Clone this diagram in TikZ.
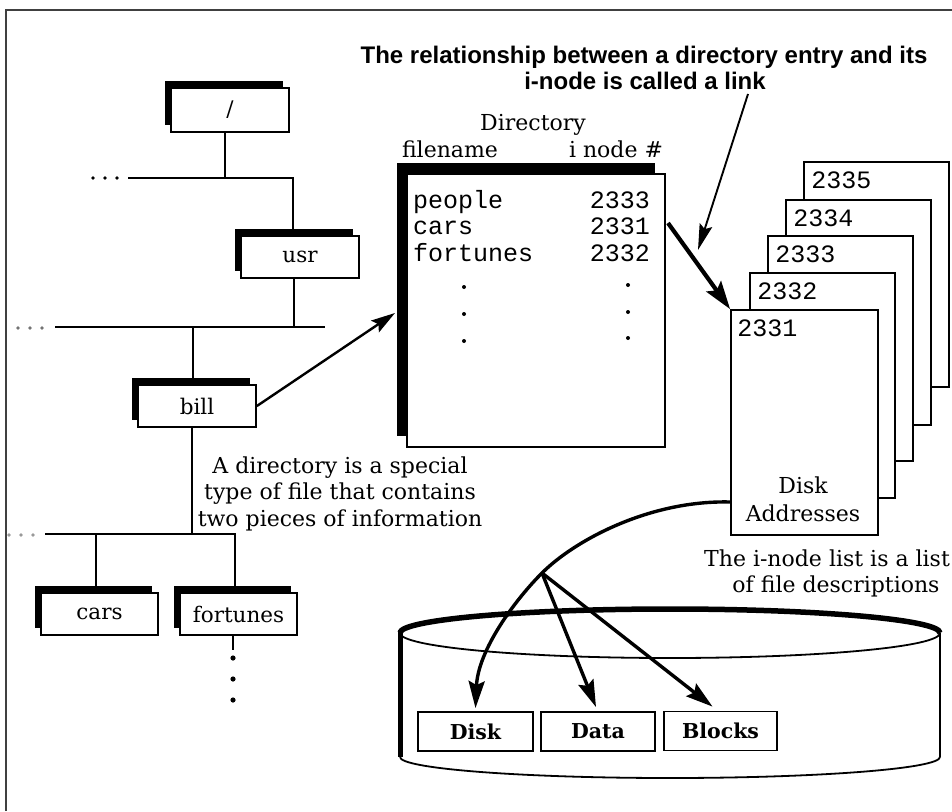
\documentclass[tikz,border=0pt]{standalone}
\usepackage{fontspec}
\newfontfamily\serif{DejaVu Serif}
\newfontfamily\mono{Liberation Mono}
\newfontfamily\hsans{Liberation Sans}
\usetikzlibrary{arrows.meta,shadows,calc}
\tikzset{
 tbox/.style={draw, line width=1.8pt, fill=white, minimum width=118pt, minimum height=42pt, inner sep=0pt,
   font=\serif\fontsize{21.5}{24}\selectfont,
   general shadow={fill=black, shadow xshift=-6pt, shadow yshift=7pt}},
 treeline/.style={line width=1.8pt},
 pagebox/.style={draw, line width=1.8pt, fill=white, minimum width=145pt, minimum height=225pt, inner sep=0pt},
 monotxt/.style={font=\mono\fontsize{25}{26.5}\selectfont, inner sep=0pt},
 sertxt/.style={font=\serif\fontsize{22}{26.5}\selectfont, inner sep=0pt},
 titletxt/.style={font=\hsans\bfseries\fontsize{24}{26}\selectfont, inner sep=0pt},
 dbox/.style={draw, line width=1.8pt, fill=white, minimum width=115pt, minimum height=39pt, inner sep=0pt,
   font=\serif\bfseries\fontsize{20.5}{22}\selectfont},
 diskarrow/.style={line width=3.4pt, -{Stealth[length=27pt,width=16pt,inset=4pt]}},
}
\begin{document}
\begin{tikzpicture}[x=1pt,y=-1pt]
\useasboundingbox (0,0) rectangle (952,811);
\fill[white] (0,0) rectangle (952,811);
% frame
\draw[line width=2pt, black!75] (6,811) -- (6,10) -- (952,10);

% ---- tree ----
\node[tbox, minimum height=44pt] (root) at (230,110) {/};
\node[tbox] (usr) at (300,257) {usr};
\node[tbox] (bill) at (197,406) {bill};
\node[tbox, minimum width=117pt] (cars) at (99.5,614) {cars};
\node[tbox, minimum width=117pt] (fort) at (238.5,614) {fortunes};

\coordinate (j1) at (225,178);
\coordinate (b1l) at (128,178);
\coordinate (b1r) at (293,178);
\draw[treeline] (j1 |- root.south) -- (j1);
\draw[treeline] (b1l) -- (b1r) -- (b1r |- usr.north);
\coordinate (j2) at (294,327);
\coordinate (b2l) at (55,327);
\coordinate (b2r) at (325,327);
\draw[treeline] (j2 |- usr.south) -- (j2);
\draw[treeline] (b2l) -- (b2r);
\coordinate (j3) at (193,327);
\draw[treeline] (j3) -- (j3 |- bill.north);
\coordinate (j4) at (192,534);
\draw[treeline] (j4 |- bill.south) -- (j4);
\coordinate (b3l) at (45,534);
\coordinate (b3r) at (235,534);
\draw[treeline] (b3l) -- (b3r) -- (b3r |- fort.north);
\coordinate (j5) at (96,534);
\draw[treeline] (j5) -- (j5 |- cars.north);
\coordinate (fdown) at (233,650);
\draw[treeline] (fdown |- fort.south) -- (fdown);
\foreach \yy in {658,679,700} \fill (233,\yy) circle (2.6pt);
\foreach \xx in {93,105,117} \fill (\xx,178) circle (1.8pt);
\foreach \xx in {18,30,42} \fill[black!55] (\xx,328) circle (1.8pt);
\foreach \xx in {9,21,33} \fill[black!40] (\xx,535) circle (1.8pt);

% annotation
\node[sertxt, anchor=base] (ann1) at (340,473) {A directory is a special};
\node[sertxt, anchor=base] (ann2) at (340,499.5) {type of file that contains};
\node[sertxt, anchor=base] (ann3) at (340,526) {two pieces of information};

% ---- directory ----
\node[draw, line width=1.8pt, fill=white, minimum width=258pt, minimum height=273pt, inner sep=0pt,
  general shadow={fill=black, shadow xshift=-10pt, shadow yshift=11pt}] (dir) at (536,310.5) {};
\node[sertxt, anchor=base] (dirtitle) at (533,130) {Directory};
\node[sertxt, anchor=base] (fnh) at (450,157) {filename};
\node[sertxt, anchor=base] (inh) at (616,157) {i node \#};
\node[monotxt, anchor=base west] (e1) at (413,208) {people};
\node[monotxt, anchor=base west] (e2) at (413,234.5) {cars};
\node[monotxt, anchor=base west] (e3) at (413,261) {fortunes};
\node[monotxt, anchor=base east] (n1) at (650,208) {2333};
\node[monotxt, anchor=base east] (n2) at (650,234.5) {2331};
\node[monotxt, anchor=base east] (n3) at (650,261) {2332};
\foreach \yy in {287,314,341} \fill (464,\yy) circle (2pt);
\foreach \yy in {285,312,338} \fill (628,\yy) circle (2pt);

% ---- title ----
\node[titletxt, anchor=base] (t1) at (644,63) {The relationship between a directory entry and its};
\node[titletxt, anchor=base] (t2) at (645,89) {i-node is called a link};
\coordinate (lk) at (748,94);
\coordinate (lkend) at (698,250);
\draw[line width=1.9pt, -{Stealth[length=26pt,width=13pt,inset=4pt]}] (lk) -- (lkend);

% ---- i-node pages ----
\node[pagebox] (p5) at (876.5,274.5) {};
\node[pagebox] (p4) at (858.5,312.5) {};
\node[pagebox] (p3) at (840.5,348.5) {};
\node[pagebox] (p2) at (822.5,385.5) {};
\node[pagebox, minimum width=147pt] (p1) at (804.5,422.5) {};
\node[monotxt, anchor=base west] (l5) at ($(p5.north west)+(8,27)$) {2335};
\node[monotxt, anchor=base west] (l4) at ($(p4.north west)+(8,27)$) {2334};
\node[monotxt, anchor=base west] (l3) at ($(p3.north west)+(8,27)$) {2333};
\node[monotxt, anchor=base west] (l2) at ($(p2.north west)+(8,27)$) {2332};
\node[monotxt, anchor=base west] (l1) at ($(p1.north west)+(7,27)$) {2331};
\node[sertxt, anchor=base] (da1) at (803,493) {Disk};
\node[sertxt, anchor=base] (da2) at (803,521) {Addresses};
\node[sertxt, anchor=base] (il1) at (827,566) {The i-node list is a list};
\node[sertxt, anchor=base] (il2) at (836,592) {of file descriptions};

% arrows to directory and i-node
\coordinate (d2331) at (668,223);
\draw[line width=4.2pt, -{Stealth[length=28pt,width=18pt,inset=5pt]}] (d2331) -- (p1.north west);
\coordinate (dirin) at (395,313);
\draw[line width=2.4pt, -{Stealth[length=24pt,width=14pt,inset=4pt]}] (bill.east) -- (dirin);

% ---- cylinder ----
\draw[line width=1.8pt] (940,633) -- (940,757);
\draw[line width=1.8pt] (400,757) arc[start angle=180, end angle=360, x radius=270pt, y radius=21pt];
\draw[line width=1.8pt] (400,633) arc[start angle=180, end angle=360, x radius=270pt, y radius=25pt];
\draw[line width=5.5pt] (400,633) arc[start angle=180, end angle=0, x radius=270pt, y radius=24pt];
\draw[line width=5pt] (400,630) -- (400,757);

\node[dbox] (disk) at (475.5,731.5) {Disk};
\node[dbox, minimum width=114pt] (data) at (598,731.5) {Data};
\node[dbox, minimum width=113pt] (blocks) at (720.5,731) {Blocks};

\coordinate (br) at (542,573);
\draw[diskarrow] (p1.west |- 0,502) .. controls (650,500) and (575,540) .. (br)
   .. controls (515,600) and (478,650) .. ($(disk.north)+(0,-3)$);
\draw[diskarrow] (br) -- ($(data.north)+(-2,-4)$);
\draw[diskarrow] (br) -- ($(blocks.north)+(-8,-4)$);
\end{tikzpicture}
\end{document}
